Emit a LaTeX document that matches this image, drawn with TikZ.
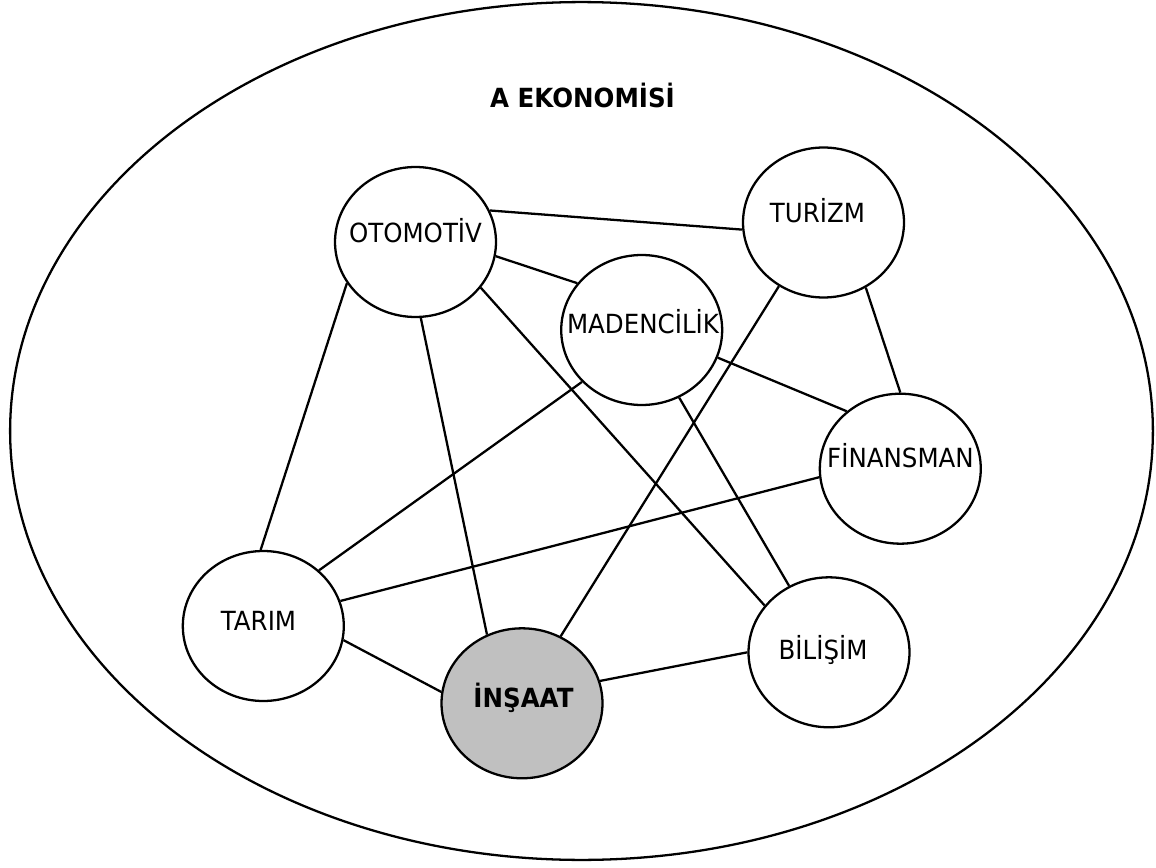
\documentclass[tikz,border=0pt]{standalone}
\usepackage{fontspec}
\setmainfont{DejaVu Sans}[FakeStretch=0.93]
\usepackage{tikz}
\usetikzlibrary{shapes.geometric}
\definecolor{insaatgri}{HTML}{C0C0C0}

\tikzset{
    sektor/.style={draw, ellipse, line width=1.3pt, minimum width=3.22cm, minimum height=3cm, inner sep=0pt},
    yazi/.style={anchor=base, inner sep=0pt, font=\fontsize{15}{17}\selectfont},
    bag/.style={line width=1.3pt}
}

\begin{document}
\begin{tikzpicture}[x=0.02cm, y=-0.02cm]
            \useasboundingbox (0,0) rectangle (1156,868);
            \node[draw, ellipse, line width=1.3pt, minimum width=22.86cm, minimum height=17.16cm, inner sep=0pt] (ekonomi) at (581.5,431) {};
            \node[yazi, font=\fontsize{15}{17}\selectfont\bfseries] (baslik) at (582.5,108) {A EKONOMİSİ};

            \node[sektor] (oto) at (415.5,242) {};
            \node[sektor] (tur) at (823.5,222.5) {};
            \node[sektor] (mad) at (641.7,330) {};
            \node[sektor] (fin) at (900.3,468.7) {};
            \node[sektor] (tar) at (263.3,626) {};
            \node[sektor, fill=insaatgri] (ins) at (522,703.3) {};
            \node[sektor] (bil) at (829,652.3) {};

            \node[yazi] (otoyazi) at (415.5,243) {OTOMOTİV};
            \node[yazi] (turyazi) at (817.5,223) {TURİZM};
            \node[yazi] (madyazi) at (643,333) {MADENCİLİK};
            \node[yazi] (finyazi) at (900.5,467) {FİNANSMAN};
            \node[yazi] (taryazi) at (258.5,630) {TARIM};
            \node[yazi, font=\fontsize{15}{17}\selectfont\bfseries] (insyazi) at (523.5,707) {İNŞAAT};
            \node[yazi] (bilyazi) at (823,659) {BİLİŞİM};

            \draw[bag] (oto.23)-- (tur.185);
            \draw[bag] (oto.-10)-- (mad.144);
            \draw[bag] (oto.211)-- (tar.92);
            \draw[bag] (oto.-86)-- (ins.117);
            \draw[bag] (oto.-35)-- (bil.144);
            \draw[bag] (tur.235)-- (ins.60);
            \draw[bag] (tur.-57)-- (fin.90);
            \draw[bag] (mad.-20)-- (fin.133);
            \draw[bag] (mad.221)-- (tar.45);
            \draw[bag] (mad.-61)-- (bil.121);
            \draw[bag] (fin.186)-- (tar.18);
            \draw[bag] (tar.-10)-- (ins.172);
            \draw[bag] (ins.16)-- (bil.180);
        \end{tikzpicture}
\end{document}
